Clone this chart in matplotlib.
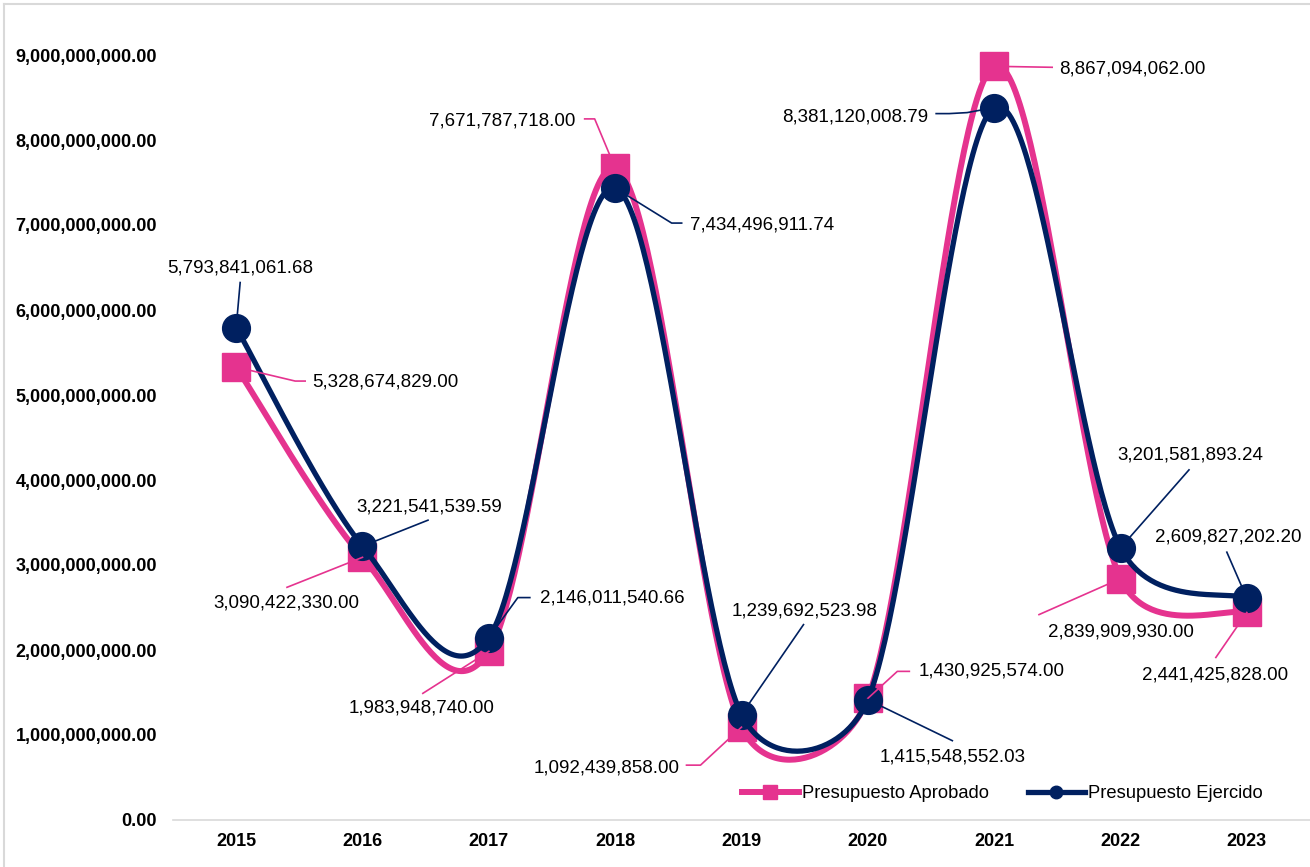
import numpy as np
import matplotlib
matplotlib.use('Agg')
import matplotlib.pyplot as plt
from matplotlib.lines import Line2D

plt.rcParams['font.family'] = ['Liberation Sans', 'DejaVu Sans']

# ---- datos ----
anios = ['2015', '2016', '2017', '2018', '2019', '2020', '2021', '2022', '2023']
aprobado = [5328674829.00, 3090422330.00, 1983948740.00, 7671787718.00, 1092439858.00,
            1430925574.00, 8867094062.00, 2839909930.00, 2441425828.00]
ejercido = [5793841061.68, 3221541539.59, 2146011540.66, 7434496911.74, 1239692523.98,
            1415548552.03, 8381120008.79, 3201581893.24, 2609827202.20]
y_ticks = [0, 1e9, 2e9, 3e9, 4e9, 5e9, 6e9, 7e9, 8e9, 9e9]

ROSA = '#E5338F'
AZUL = '#002060'
GRIS = '#D9D9D9'

# posicion de etiquetas (pixeles respecto al marcador, y hacia abajo)
txt_aprob = [(149, 15), (-76, 46), (-67, 57), (-113, -47), (-135, 41),
             (124, -27), (138, 3), (0, 53), (-32, 63)]
lider_aprob = [[(59, 14), (69, 14)], [(-75.5, 30)], [(-66, 42)], [(-20.5, -49), (-30.5, -49)],
               [(-41, 38), (-55, 38)], [(29.5, -27), (41.5, -27)], [(58, 1)], [(-81.5, 36)],
               [(-31, 45)]]
txt_ejer = [(4, -60), (66.5, -39), (123, -40), (146.5, 37), (63, -104),
            (84.5, 57), (-139, 9.5), (69.5, -93), (-19, -61)]
lider_ejer = [[(4, -45)], [(65.5, -26)], [(29, -40), (41, -40)], [(56.5, 35), (66.5, 35)],
              [(62, -90)], [(84.5, 41)], [(-27, 5), (-45, 6), (-58, 6)], [(68.5, -78)],
              [(-20, -46)]]


def suavizar(ax, y, n=60):
    # linea suavizada estilo Excel: bezier en pixeles, control limitado a medio tramo
    pts = ax.transData.transform(np.column_stack([np.arange(len(y), dtype=float),
                                                  np.array(y, dtype=float)]))
    t = np.linspace(0, 1, n)[:, None]
    partes = []
    ult = len(pts) - 1
    for i in range(ult):
        p0 = pts[max(i - 1, 0)]
        p1 = pts[i]
        p2 = pts[i + 1]
        p3 = pts[min(i + 2, ult)]
        d12 = np.hypot(*(p2 - p1))
        v1 = (p2 - p0) / 6
        v2 = (p3 - p1) / 6
        for v in (v1, v2):
            largo = np.hypot(*v)
            if largo > d12 / 2:
                v *= (d12 / 2) / largo
        c1 = p1 + v1
        c2 = p2 - v2
        seg = (1 - t) ** 3 * p1 + 3 * (1 - t) ** 2 * t * c1 + 3 * (1 - t) * t ** 2 * c2 + t ** 3 * p2
        partes.append(seg if i == 0 else seg[1:])
    seg = ax.transData.inverted().transform(np.vstack(partes))
    return seg[:, 0], seg[:, 1]


fig = plt.figure(figsize=(13.1, 8.67), dpi=100)
ax = fig.add_axes([173 / 1310, 1 - 820 / 867, 1 - 173 / 1310, (820 - 55) / 867])
ax.set_xlim(-0.5, len(anios) - 0.5)
ax.set_ylim(0, 9e9)

x = np.arange(len(anios))
xs, ys = suavizar(ax, aprobado)
ax.plot(xs, ys, color=ROSA, lw=4.3, zorder=3, solid_capstyle='round')
ax.plot(x, aprobado, ls='none', marker='s', ms=20, color=ROSA, zorder=4, clip_on=False)
xs, ys = suavizar(ax, ejercido)
ax.plot(xs, ys, color=AZUL, lw=3.8, zorder=5, solid_capstyle='round')
ax.plot(x, ejercido, ls='none', marker='o', ms=20, color=AZUL, zorder=6, clip_on=False)

ax.set_xticks(x)
ax.set_xticklabels(anios, fontsize=13, fontweight='bold')
ax.set_yticks(y_ticks)
ax.set_yticklabels([f"{v:,.2f}" for v in y_ticks], fontsize=13, fontweight='bold')
ax.tick_params(axis='both', length=0)
ax.tick_params(axis='y', pad=11.5)
ax.tick_params(axis='x', pad=9.4)
for lado in ['top', 'right', 'left']:
    ax.spines[lado].set_visible(False)
ax.spines['bottom'].set_color(GRIS)
ax.spines['bottom'].set_linewidth(1.2)

# etiquetas con lineas guia
fig.canvas.draw()
inv = fig.transFigure.inverted()


def etiquetar(valores, textos, lideres, color):
    for i, v in enumerate(valores):
        px, py = ax.transData.transform((i, v))
        puntos = [(px, py)] + [(px + dx, py - dy) for dx, dy in lideres[i]]
        fr = inv.transform(puntos)
        fig.add_artist(Line2D(fr[:, 0], fr[:, 1], color=color, lw=1.2, zorder=2))
        dx, dy = textos[i]
        tx, ty = inv.transform((px + dx, py - dy))
        fig.text(tx, ty, f"{v:,.2f}", ha='center', va='center', fontsize=13.5, color='black')


etiquetar(aprobado, txt_aprob, lider_aprob, ROSA)
etiquetar(ejercido, txt_ejer, lider_ejer, AZUL)

# leyenda
h1 = Line2D([], [], color=ROSA, lw=4.3, marker='s', ms=9.5)
h2 = Line2D([], [], color=AZUL, lw=3.8, marker='o', ms=9)
fig.legend([h1, h2], ['Presupuesto Aprobado', 'Presupuesto Ejercido'], loc='center left',
           bbox_to_anchor=(742 / 1310, 1 - 794 / 867), ncol=2, frameon=False, fontsize=13.2,
           borderpad=0, borderaxespad=0, handlelength=3.1, handletextpad=0.2, columnspacing=2.1)

# marco del grafico
fig.add_artist(Line2D([3.5 / 1310, 3.5 / 1310], [0, 1 - 3.5 / 867], color=GRIS, lw=1.5))
fig.add_artist(Line2D([3.5 / 1310, 1], [1 - 3.5 / 867, 1 - 3.5 / 867], color=GRIS, lw=1.5))

fig.savefig('out.png', dpi=100)
